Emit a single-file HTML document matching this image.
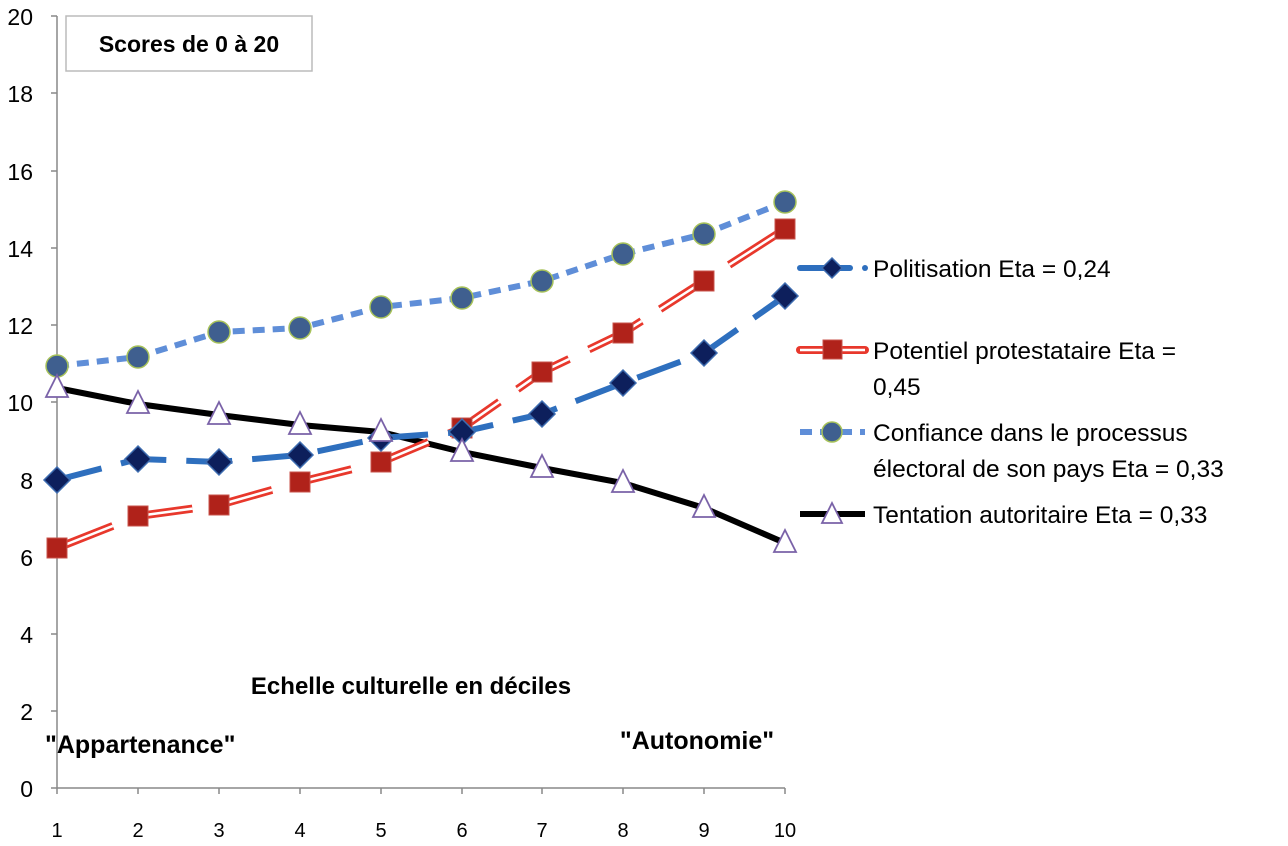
<!DOCTYPE html>
<html><head><meta charset="utf-8"><style>
html,body{margin:0;padding:0;background:#fff;}
svg{display:block;font-family:"Liberation Sans",sans-serif;}
</style></head><body>
<svg width="1288" height="846" viewBox="0 0 1288 846" xmlns="http://www.w3.org/2000/svg">
<rect width="1288" height="846" fill="#fff"/>
<g stroke="#888" stroke-width="1.5">
<line x1="57" y1="16" x2="57" y2="788"/>
<line x1="57" y1="788" x2="785" y2="788"/>
<line x1="51" y1="16" x2="57" y2="16"/><line x1="51" y1="93" x2="57" y2="93"/>
<line x1="51" y1="171" x2="57" y2="171"/><line x1="51" y1="248" x2="57" y2="248"/>
<line x1="51" y1="325" x2="57" y2="325"/><line x1="51" y1="402" x2="57" y2="402"/>
<line x1="51" y1="480" x2="57" y2="480"/><line x1="51" y1="557" x2="57" y2="557"/>
<line x1="51" y1="634" x2="57" y2="634"/><line x1="51" y1="711" x2="57" y2="711"/>
<line x1="51" y1="788" x2="57" y2="788"/>
<line x1="57" y1="788" x2="57" y2="794"/><line x1="138" y1="788" x2="138" y2="794"/>
<line x1="219" y1="788" x2="219" y2="794"/><line x1="300" y1="788" x2="300" y2="794"/>
<line x1="381" y1="788" x2="381" y2="794"/><line x1="462" y1="788" x2="462" y2="794"/>
<line x1="542" y1="788" x2="542" y2="794"/><line x1="623" y1="788" x2="623" y2="794"/>
<line x1="704" y1="788" x2="704" y2="794"/><line x1="785" y1="788" x2="785" y2="794"/>
</g>
<g font-size="23" fill="#000" text-anchor="end">
<text x="33" y="25">20</text><text x="33" y="102">18</text><text x="33" y="180">16</text>
<text x="33" y="257">14</text><text x="33" y="334">12</text><text x="33" y="411">10</text>
<text x="33" y="489">8</text><text x="33" y="566">6</text><text x="33" y="643">4</text>
<text x="33" y="720">2</text><text x="33" y="797">0</text>
</g>
<g font-size="20" fill="#000" text-anchor="middle">
<text x="57" y="837">1</text><text x="138" y="837">2</text><text x="219" y="837">3</text>
<text x="300" y="837">4</text><text x="381" y="837">5</text><text x="462" y="837">6</text>
<text x="542" y="837">7</text><text x="623" y="837">8</text><text x="704" y="837">9</text>
<text x="785" y="837">10</text>
</g>
<rect x="66" y="16" width="246" height="55" fill="#fff" stroke="#bbb" stroke-width="1.5"/>
<text x="189" y="52" font-size="23" font-weight="bold" text-anchor="middle">Scores de 0 à 20</text>
<text x="411" y="694" font-size="24" font-weight="bold" text-anchor="middle">Echelle culturelle en déciles</text>
<text x="45" y="753" font-size="25" font-weight="bold">"Appartenance"</text>
<text x="697" y="749" font-size="25" font-weight="bold" text-anchor="middle">"Autonomie"</text>

<polyline points="57,366 138,357 219,332 300,328 381,307 462,298 542,281 623,254 704,234 785,202" fill="none" stroke="#5f8ed8" stroke-width="6" stroke-dasharray="12,8"/>
<polyline points="57,388 138,404 219,415 300,425 381,432 462,452 542,468 623,483 704,508 785,543" fill="none" stroke="#000" stroke-width="6"/>
<g fill="none" stroke-dasharray="60,22">
<polyline points="57,548 138,516 219,505 300,482 381,462 462,428 542,372 623,333 704,281 785,229" stroke="#e8382c" stroke-width="8"/>
<polyline points="57,548 138,516 219,505 300,482 381,462 462,428 542,372 623,333 704,281 785,229" stroke="#fff" stroke-width="2.5"/>
</g>
<polyline points="57,480 138,459 219,462 300,455 381,438 462,432 542,414 623,383 704,353 785,296" fill="none" stroke="#2e6fbe" stroke-width="6" stroke-dasharray="46,20"/>

<g fill="#3f5f8f" stroke="#a7c25a" stroke-width="1.5">
<circle cx="57" cy="366" r="11"/><circle cx="138" cy="357" r="11"/><circle cx="219" cy="332" r="11"/>
<circle cx="300" cy="328" r="11"/><circle cx="381" cy="307" r="11"/><circle cx="462" cy="298" r="11"/>
<circle cx="542" cy="281" r="11"/><circle cx="623" cy="254" r="11"/><circle cx="704" cy="234" r="11"/>
<circle cx="785" cy="202" r="11"/>
</g>
<g fill="#b0221a" stroke="#c8534b" stroke-width="1">
<rect x="47" y="538" width="20" height="20"/><rect x="128" y="506" width="20" height="20"/>
<rect x="209" y="495" width="20" height="20"/><rect x="290" y="472" width="20" height="20"/>
<rect x="371" y="452" width="20" height="20"/><rect x="452" y="418" width="20" height="20"/>
<rect x="532" y="362" width="20" height="20"/><rect x="613" y="323" width="20" height="20"/>
<rect x="694" y="271" width="20" height="20"/><rect x="775" y="219" width="20" height="20"/>
</g>
<g fill="#0d1f5c" stroke="#3d6cb0" stroke-width="1.5">
<path d="M57,467 l13,13 l-13,13 l-13,-13z"/><path d="M138,446 l13,13 l-13,13 l-13,-13z"/>
<path d="M219,449 l13,13 l-13,13 l-13,-13z"/><path d="M300,442 l13,13 l-13,13 l-13,-13z"/>
<path d="M381,425 l13,13 l-13,13 l-13,-13z"/><path d="M462,419 l13,13 l-13,13 l-13,-13z"/>
<path d="M542,401 l13,13 l-13,13 l-13,-13z"/><path d="M623,370 l13,13 l-13,13 l-13,-13z"/>
<path d="M704,340 l13,13 l-13,13 l-13,-13z"/><path d="M785,283 l13,13 l-13,13 l-13,-13z"/>
</g>
<g fill="#fff" stroke="#7a62a8" stroke-width="1.8">
<path d="M57,375 l11,22 h-22z"/><path d="M138,391 l11,22 h-22z"/><path d="M219,402 l11,22 h-22z"/>
<path d="M300,412 l11,22 h-22z"/><path d="M381,419 l11,22 h-22z"/><path d="M462,439 l11,22 h-22z"/>
<path d="M542,455 l11,22 h-22z"/><path d="M623,470 l11,22 h-22z"/><path d="M704,495 l11,22 h-22z"/>
<path d="M785,530 l11,22 h-22z"/>
</g>

<line x1="800" y1="268" x2="850" y2="268" stroke="#2e6fbe" stroke-width="6" stroke-linecap="round"/>
<path d="M832,258 l10,10 l-10,10 l-10,-10z" fill="#0d1f5c" stroke="#3d6cb0" stroke-width="1.5"/>
<circle cx="865" cy="268" r="3" fill="#2e6fbe"/>
<text x="873" y="277" font-size="24.5">Politisation Eta = 0,24</text>

<line x1="800" y1="350" x2="865" y2="350" stroke="#e8382c" stroke-width="8" stroke-linecap="round"/>
<line x1="800" y1="350" x2="865" y2="350" stroke="#fff" stroke-width="2.5"/>
<rect x="823" y="340" width="19" height="19" fill="#b0221a" stroke="#c8534b"/>
<text x="873" y="359" font-size="24.5">Potentiel protestataire Eta =</text>
<text x="873" y="395" font-size="24.5">0,45</text>

<line x1="800" y1="432" x2="865" y2="432" stroke="#5f8ed8" stroke-width="6" stroke-dasharray="12,8"/>
<circle cx="832" cy="432" r="10" fill="#3f5f8f" stroke="#a7c25a" stroke-width="1.5"/>
<text x="873" y="441" font-size="24.5">Confiance dans le processus</text>
<text x="873" y="477" font-size="24.5">électoral de son pays  Eta = 0,33</text>

<line x1="800" y1="514" x2="865" y2="514" stroke="#000" stroke-width="6"/>
<path d="M832,503 l10,20 h-20z" fill="#fff" stroke="#7a62a8" stroke-width="1.8"/>
<text x="873" y="523" font-size="24.5">Tentation autoritaire Eta = 0,33</text>
</svg>
</body></html>
